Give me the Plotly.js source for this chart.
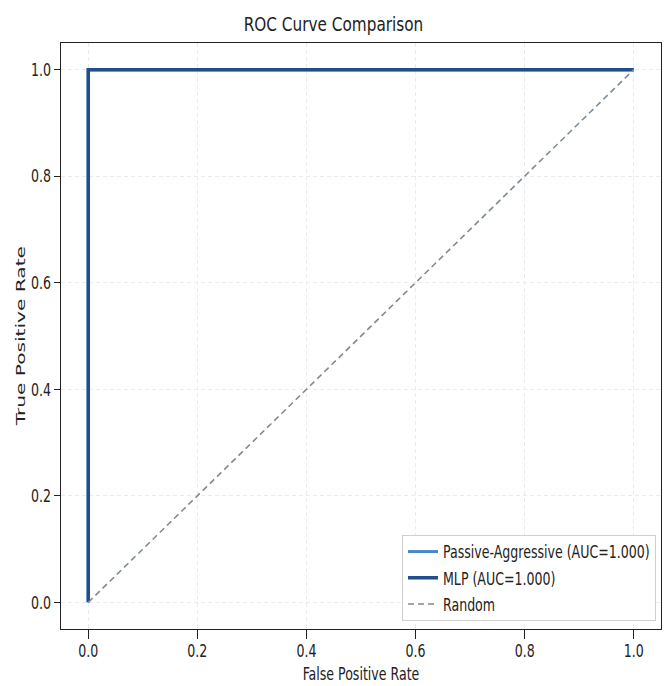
<!DOCTYPE html>
<html>
<head>
<meta charset="utf-8">
<script src="https://cdn.plot.ly/plotly-3.0.1.min.js"></script>
<style>html,body{margin:0;padding:0;background:#fff;}#chart{width:667px;height:686px;}</style>
</head>
<body>
<div id="chart"></div>
<script>
const paFpr = [0, 0, 1];
const paTpr = [0, 1, 1];
const mlpFpr = [0, 0, 1];
const mlpTpr = [0, 1, 1];
const randX = [0, 1];
const randY = [0, 1];
const paName = 'Passive-Aggressive (AUC=1.000)';
const mlpName = 'MLP (AUC=1.000)';
const randName = 'Random';
const tickVals = [0, 0.2, 0.4, 0.6, 0.8, 1.0];
const tickText = ['0.0', '0.2', '0.4', '0.6', '0.8', '1.0'];

const F = '"DejaVu Sans Condensed", "DejaVu Sans", sans-serif';

const traces = [
  {x: paFpr, y: paTpr, name: paName, legendgroup: 'a', mode: 'lines', line: {color: '#4a86c5', width: 3}},
  {x: mlpFpr, y: mlpTpr, name: mlpName, legendgroup: 'b', mode: 'lines', line: {color: '#1f4e8c', width: 3.5}},
  {x: randX, y: randY, name: randName, legendgroup: 'c', mode: 'lines', line: {color: '#7f8a96', width: 1.6, dash: '6px,4px'}}
];

const axisCommon = {
  range: [-0.05, 1.05],
  tickvals: tickVals,
  ticktext: tickText,
  ticks: 'outside',
  tickcolor: '#222',
  tickwidth: 1.2,
  showline: true,
  linecolor: '#222',
  linewidth: 1.3,
  mirror: true,
  showgrid: true,
  gridcolor: '#ebebeb',
  griddash: '4px,3px',
  gridwidth: 1,
  zeroline: false,
  tickfont: {family: F, size: 14, color: '#222'}
};

const layout = {
  width: 667, height: 686,
  margin: {l: 61, r: 6, t: 43, b: 57},
  paper_bgcolor: '#fff', plot_bgcolor: '#fff',
  title: {text: 'ROC Curve Comparison', x: 0.5, xanchor: 'center', yref: 'container', y: 1 - 30/686, yanchor: 'bottom', font: {family: F, size: 17, color: '#222'}},
  xaxis: Object.assign({}, axisCommon, {ticklen: 9, title: {text: 'False Positive Rate', standoff: 10, font: {family: F, size: 14, color: '#222'}}}),
  yaxis: Object.assign({}, axisCommon, {ticklen: 6, title: {text: 'True Positive Rate', standoff: 2, font: {family: '"DejaVu Sans", sans-serif', size: 13, color: '#222'}}}),
  showlegend: true,
  legend: {
    x: 0.9917, xanchor: 'right', y: 0.0137, yanchor: 'bottom',
    traceorder: 'grouped', tracegroupgap: 5,
    bgcolor: 'rgba(255,255,255,0.92)', bordercolor: '#cfcfcf', borderwidth: 1,
    font: {family: F, size: 14, color: '#222'}
  }
};

function stretch(el, sx, sy) {
  const b = el.getBBox();
  const cx = b.x + b.width / 2, cy = b.y + b.height / 2;
  const tr = el.getAttribute('transform') || '';
  el.setAttribute('transform', tr + ' translate(' + cx + ',' + cy + ') scale(' + sx + ',' + sy + ') translate(' + (-cx) + ',' + (-cy) + ')');
}

Plotly.newPlot('chart', traces, layout, {displayModeBar: false, staticPlot: true}).then(function (gd) {
  const yt = gd.querySelector('.ytitle');
  if (yt) stretch(yt, 1.55, 1);
  const gt = gd.querySelector('.gtitle');
  if (gt) stretch(gt, 1, 1.12);
  gd.querySelectorAll('.xtick text, .ytick text, .xtitle, .legendtext').forEach(function (el) {
    stretch(el, 1, 1.28);
  });
});
</script>
</body>
</html>
